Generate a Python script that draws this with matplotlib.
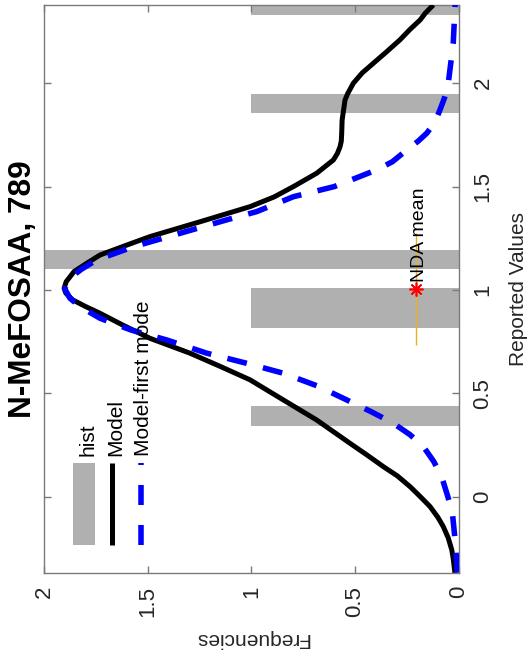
import matplotlib
matplotlib.use("Agg")
import matplotlib.pyplot as plt
from matplotlib.lines import Line2D
from matplotlib.patches import Rectangle

plt.rcParams["font.family"] = ["Liberation Sans", "DejaVu Sans"]

GREY = "#B0B0B0"
BLUE = "#0000FF"
ORANGE = "#EDB120"
AXCOL = "#7A7A7A"
TXT = "#262626"

# histogram: bin edges (reported values) and counts
hist_lo = [0.343, 0.816, 1.099, 1.855, 2.328]
hist_hi = [0.437, 1.010, 1.194, 1.950, 2.422]
hist_count = [1, 1, 2, 1, 1]

# Model (black) -- reported value vs frequency
model_val = [-0.368, -0.300, -0.258, -0.200, -0.145, -0.100, -0.048, 0.000, 0.048,
             0.100, 0.145, 0.200, 0.258, 0.371, 0.468, 0.565, 0.630, 0.694, 0.766,
             0.830, 0.887, 0.920, 0.952, 0.985, 1.008, 1.040, 1.089, 1.125, 1.169,
             1.210, 1.258, 1.330, 1.403, 1.450, 1.500, 1.565, 1.629, 1.660, 1.693,
             1.720, 1.758, 1.822, 1.919, 1.950, 2.000, 2.050, 2.097, 2.150, 2.210,
             2.260, 2.306, 2.340, 2.379]
model_freq = [0.018, 0.026, 0.033, 0.050, 0.074, 0.100, 0.138, 0.185, 0.234,
              0.295, 0.363, 0.440, 0.524, 0.685, 0.846, 1.006, 1.150, 1.296, 1.489,
              1.620, 1.730, 1.800, 1.862, 1.895, 1.903, 1.893, 1.855, 1.800, 1.730,
              1.620, 1.489, 1.247, 1.006, 0.890, 0.797, 0.684, 0.604, 0.585, 0.572,
              0.566, 0.564, 0.562, 0.548, 0.535, 0.508, 0.465, 0.411, 0.350, 0.283,
              0.235, 0.186, 0.160, 0.122]

# Model - first mode (blue dashed)
mode1_val = [-0.368, -0.306, -0.200, -0.080, 0.000, 0.097, 0.170, 0.242, 0.300,
             0.355, 0.410, 0.468, 0.535, 0.597, 0.645, 0.694, 0.758, 0.806, 0.863,
             0.919, 0.960, 1.005, 1.057, 1.100, 1.145, 1.209, 1.274, 1.339, 1.379,
             1.451, 1.500, 1.581, 1.620, 1.677, 1.720, 1.758, 1.810, 1.871, 1.930,
             2.000, 2.193, 2.379]
mode1_freq = [0.006, 0.010, 0.018, 0.030, 0.052, 0.082, 0.120, 0.170, 0.235,
              0.315, 0.420, 0.540, 0.680, 0.846, 1.022, 1.215, 1.408, 1.580, 1.730,
              1.826, 1.875, 1.900, 1.875, 1.820, 1.746, 1.569, 1.344, 1.119, 0.974,
              0.797, 0.600, 0.395, 0.320, 0.250, 0.195, 0.154, 0.115, 0.090, 0.068,
              0.050, 0.026, 0.017]

# NDA mean marker
nda_freq = 0.207
nda_val = 1.005
nda_err = 0.27

freq_ticks = [0, 0.5, 1, 1.5, 2]
freq_labels = ["0", "0.5", "1", "1.5", "2"]
val_ticks = [0, 0.5, 1, 1.5, 2]
val_labels = ["0", "0.5", "1", "1.5", "2"]

fig = plt.figure(figsize=(5.31, 6.62), dpi=100)
ax = fig.add_axes([0.0829, 0.1349, 0.7808, 0.8580])

ax.barh(hist_lo, hist_count, height=[h - l for l, h in zip(hist_lo, hist_hi)],
        align="edge", color=GREY, linewidth=0, zorder=1)
ax.plot(model_freq, model_val, color="black", lw=3.6, zorder=3,
        solid_capstyle="butt", solid_joinstyle="round")
ax.plot(mode1_freq, mode1_val, color=BLUE, lw=4, linestyle=(0, (3.6, 3.0)),
        zorder=4, dash_capstyle="butt")

ax.errorbar(nda_freq, nda_val, yerr=nda_err, fmt="none", ecolor=ORANGE,
            elinewidth=1, capsize=0, zorder=5)
ax.plot(nda_freq, nda_val, ls="none", marker=(8, 2, 0), ms=10, mew=1.2,
        color="red", zorder=6)
ax.annotate("NDA mean", xy=(nda_freq, nda_val), xytext=(3, 5),
            textcoords="offset points", rotation=90, ha="center", va="bottom",
            fontsize=14, color="black", zorder=7)

ax.set_xlim(2, 0)
ax.set_ylim(-0.368, 2.380)

ax.set_xticks(freq_ticks)
ax.set_xticklabels(freq_labels)
ax.set_yticks(val_ticks)
ax.set_yticklabels(val_labels)
ax.tick_params(direction="in", length=5, width=1, color=AXCOL, labelsize=16,
               labelcolor=TXT, top=True, right=True, left=True, bottom=True)
ax.tick_params(axis="x", labelrotation=90, pad=9.5)
ax.tick_params(axis="y", labelrotation=90, labelleft=False, labelright=True,
               pad=10.0)
for lab in ax.get_yticklabels():
    lab.set_va("center")

for sp in ax.spines.values():
    sp.set_color(AXCOL)
    sp.set_linewidth(1)

ax.set_xlabel("Frequencies", fontsize=15, color=TXT, rotation=180)
ax.xaxis.set_label_coords(0.5, -0.100)
ax.set_ylabel("Reported Values", fontsize=15, color=TXT)
ax.yaxis.set_label_position("right")
ax.yaxis.set_label_coords(1.1216, 0.5)

fig.text(23.5 / 531, 1 - 288.7 / 662, "N-MeFOSAA, 789", rotation=90,
         fontsize=22.7, fontweight="bold", ha="center", va="center")

# legend, drawn rotated like the rest of the figure
ax.add_patch(Rectangle((0.070, 0.049), 0.053, 0.144, transform=ax.transAxes,
                       color=GREY, linewidth=0, zorder=8))
ax.add_line(Line2D([0.164, 0.164], [0.049, 0.193], transform=ax.transAxes,
                   color="black", lw=3.6, zorder=8, solid_capstyle="butt"))
ax.add_line(Line2D([0.233, 0.233], [0.049, 0.193], transform=ax.transAxes,
                   color=BLUE, lw=4, linestyle=(0, (3.6, 3.6)), zorder=8,
                   dash_capstyle="butt"))
for xf, name in [(0.105, "hist"), (0.172, "Model"), (0.240, "Model-first mode")]:
    ax.text(xf, 0.205, name, transform=ax.transAxes, rotation=90, ha="center",
            va="bottom", fontsize=15, color="black", zorder=9)

fig.savefig("out.png", dpi=100)
